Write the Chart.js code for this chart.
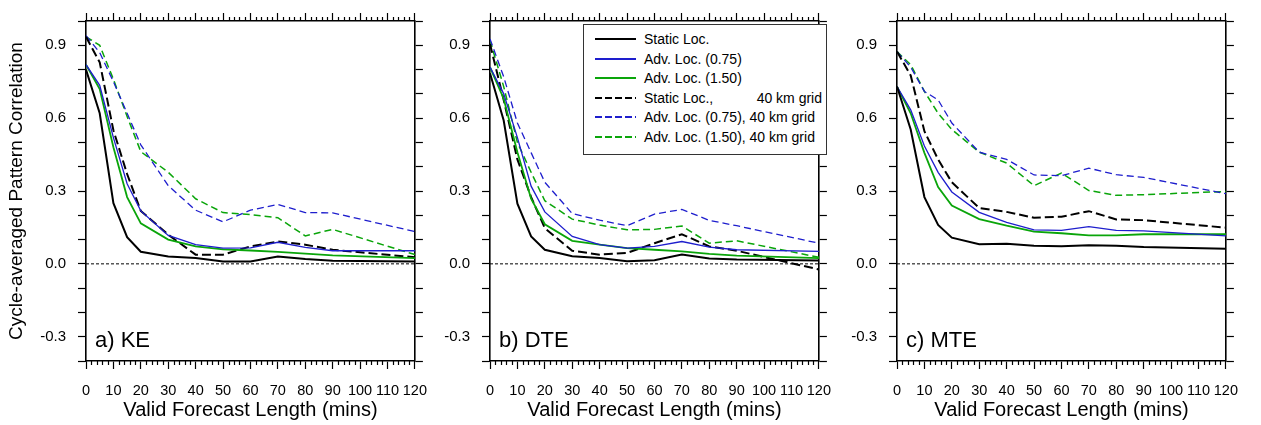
<!DOCTYPE html>
<html>
<head>
<meta charset="utf-8">
<script src="https://cdn.jsdelivr.net/npm/chart.js@4.4.1/dist/chart.umd.min.js"></script>
<style>
  body { margin: 0; background: #fff; width: 1261px; height: 425px; overflow: hidden; position: relative; font-family: 'Liberation Sans', Arial, sans-serif; }
  canvas.panel { position: absolute; top: 0; }
  #legend { position: absolute; left: 583px; top: 24px; width: 242px; height: 129px; border: 1.5px solid #333; background: #fff; }
  #legend .row { position: absolute; left: 0; height: 20px; display: flex; align-items: center; font-size: 14px; color: #000; }
  #legend svg { margin-left: 11px; margin-right: 8px; }
  #legend .txt { width: 178px; display: flex; justify-content: space-between; white-space: nowrap; }
</style>
</head>
<body>
<canvas id="panelA" class="panel" width="440" height="425" style="left:0px"></canvas>
<canvas id="panelB" class="panel" width="440" height="425" style="left:404px"></canvas>
<canvas id="panelC" class="panel" width="440" height="425" style="left:811px"></canvas>
<div id="legend"></div>
<script>
// forecast lengths (mins)
const lengths = [0, 5, 10, 15, 20, 30, 40, 50, 60, 70, 80, 90, 120];

// a) KE
const keStatic     = [0.80, 0.62, 0.25, 0.11, 0.05, 0.03, 0.024, 0.01, 0.01, 0.03, 0.02, 0.013, 0.01];
const keAdv075     = [0.82, 0.735, 0.52, 0.33, 0.218, 0.117, 0.079, 0.065, 0.066, 0.089, 0.068, 0.054, 0.054];
const keAdv150     = [0.82, 0.72, 0.48, 0.275, 0.167, 0.10, 0.072, 0.06, 0.055, 0.049, 0.042, 0.035, 0.024];
const keStatic40   = [0.935, 0.83, 0.55, 0.37, 0.218, 0.12, 0.038, 0.038, 0.072, 0.092, 0.079, 0.058, 0.027];
const keAdv075_40  = [0.94, 0.87, 0.75, 0.62, 0.49, 0.322, 0.221, 0.173, 0.221, 0.245, 0.211, 0.21, 0.133];
const keAdv150_40  = [0.935, 0.90, 0.76, 0.607, 0.462, 0.377, 0.268, 0.211, 0.203, 0.19, 0.115, 0.142, 0.038];

// b) DTE
const dteStatic    = [0.785, 0.59, 0.248, 0.113, 0.058, 0.031, 0.024, 0.011, 0.015, 0.038, 0.022, 0.018, 0.014];
const dteAdv075    = [0.81, 0.70, 0.52, 0.32, 0.214, 0.113, 0.079, 0.065, 0.072, 0.092, 0.069, 0.058, 0.051];
const dteAdv150    = [0.81, 0.68, 0.46, 0.268, 0.163, 0.095, 0.079, 0.065, 0.058, 0.051, 0.041, 0.034, 0.024];
const dteStatic40  = [0.905, 0.675, 0.43, 0.275, 0.147, 0.054, 0.038, 0.045, 0.085, 0.122, 0.072, 0.054, -0.023];
const dteAdv075_40 = [0.926, 0.77, 0.58, 0.458, 0.336, 0.207, 0.18, 0.157, 0.205, 0.224, 0.179, 0.157, 0.085];
const dteAdv150_40 = [0.92, 0.73, 0.50, 0.377, 0.26, 0.184, 0.16, 0.14, 0.142, 0.156, 0.085, 0.095, 0.027];

// c) MTE
const mteStatic    = [0.73, 0.553, 0.275, 0.16, 0.108, 0.081, 0.083, 0.075, 0.072, 0.077, 0.075, 0.069, 0.062];
const mteAdv075    = [0.73, 0.634, 0.485, 0.377, 0.296, 0.212, 0.171, 0.14, 0.138, 0.153, 0.138, 0.136, 0.115];
const mteAdv150    = [0.73, 0.62, 0.457, 0.316, 0.24, 0.184, 0.157, 0.133, 0.126, 0.117, 0.117, 0.122, 0.122];
const mteStatic40  = [0.874, 0.776, 0.546, 0.43, 0.336, 0.23, 0.214, 0.19, 0.194, 0.217, 0.183, 0.18, 0.149];
const mteAdv075_40 = [0.874, 0.81, 0.71, 0.675, 0.58, 0.46, 0.43, 0.366, 0.363, 0.394, 0.367, 0.356, 0.289];
const mteAdv150_40 = [0.874, 0.82, 0.71, 0.62, 0.553, 0.46, 0.415, 0.322, 0.374, 0.302, 0.282, 0.285, 0.298];

const seriesNames = ['Static Loc.', 'Adv. Loc. (0.75)', 'Adv. Loc. (1.50)',
  'Static Loc., 40 km grid', 'Adv. Loc. (0.75), 40 km grid', 'Adv. Loc. (1.50), 40 km grid'];

const BLUE = 'rgb(30,30,205)';
const GREEN = 'rgb(10,165,10)';
const lineStyles = [
  { color: '#000', width: 2, dash: [] },
  { color: BLUE, width: 1.3, dash: [] },
  { color: GREEN, width: 1.8, dash: [] },
  { color: '#000', width: 2, dash: [9, 4] },
  { color: BLUE, width: 1.3, dash: [7, 4] },
  { color: GREEN, width: 1.5, dash: [7, 4] },
];

const FONT = "'Liberation Sans', Arial, Helvetica, sans-serif";

function toPoints(vals) {
  return vals.map((v, i) => ({ x: lengths[i], y: v }));
}

// minor ticks on top and bottom axes + panel label
const panelDecor = {
  id: 'panelDecor',
  afterDraw(chart, args, opts) {
    const ctx = chart.ctx;
    const xs = chart.scales.x;
    const area = chart.chartArea;
    ctx.save();
    ctx.strokeStyle = '#000';
    ctx.lineWidth = 1.2;
    ctx.beginPath();
    for (let v = 2; v < 120; v += 2) {
      if (v % 10 === 0) continue;
      const px = Math.round(xs.getPixelForValue(v)) + 0.5;
      ctx.moveTo(px, area.bottom);
      ctx.lineTo(px, area.bottom + 4);
      ctx.moveTo(px, area.top);
      ctx.lineTo(px, area.top - 4);
    }
    ctx.stroke();
    ctx.fillStyle = '#000';
    ctx.font = '22px ' + FONT;
    ctx.textBaseline = 'alphabetic';
    ctx.fillText(opts.label, area.left + 9, area.bottom - 14);
    ctx.restore();
  }
};

function yLabel(v) {
  const tenths = Math.round(v * 10);
  if (tenths % 3 !== 0) return '';
  return (tenths === 0 ? 0 : tenths / 10).toFixed(1);
}

function makePanel(id, label, data, showTitle) {
  const datasets = data.map((vals, i) => ({
    label: seriesNames[i],
    data: toPoints(vals),
    borderColor: lineStyles[i].color,
    borderWidth: lineStyles[i].width,
    borderDash: lineStyles[i].dash,
    pointRadius: 0,
    tension: 0,
    fill: false,
  }));
  // zero reference line
  datasets.push({
    label: 'zero',
    data: [{ x: 0, y: 0 }, { x: 120, y: 0 }],
    borderColor: '#000',
    borderWidth: 1,
    borderDash: [3, 2],
    pointRadius: 0,
  });

  const border = { display: true, color: '#000', width: 1.6 };
  const grid = { drawOnChartArea: false, drawTicks: true, tickLength: 8, tickColor: '#000', tickWidth: 1.2 };

  new Chart(document.getElementById(id), {
    type: 'line',
    data: { datasets },
    options: {
      responsive: false,
      animation: false,
      layout: { padding: 0 },
      plugins: {
        legend: { display: false },
        tooltip: { enabled: false },
        panelDecor: { label },
      },
      scales: {
        x: {
          type: 'linear', position: 'bottom', min: 0, max: 120,
          border, grid,
          ticks: { stepSize: 10, autoSkip: false, maxRotation: 0, padding: 13, color: '#000',
                   font: { family: FONT, size: 14.5 } },
          title: { display: true, text: 'Valid Forecast Length (mins)', color: '#000',
                   font: { family: FONT, size: 20 }, padding: { top: 0, bottom: 3 } },
          afterFit(s) { s.height = 64; },
        },
        x2: {
          type: 'linear', position: 'top', min: 0, max: 120,
          border, grid,
          ticks: { stepSize: 10, display: false },
          afterFit(s) { s.height = 16; },
        },
        y: {
          type: 'linear', position: 'left', min: -0.4, max: 1.0,
          border, grid,
          ticks: {
            stepSize: 0.1, autoSkip: false, padding: 12, color: '#000',
            font: { family: FONT, size: 15 },
            callback: yLabel,
          },
          title: { display: showTitle, text: 'Cycle-averaged Pattern Correlation', color: '#000',
                   font: { family: FONT, size: 19 }, padding: { top: 5, bottom: 0 } },
          afterFit(s) { s.width = 86; },
        },
        y2: {
          type: 'linear', position: 'right', min: -0.4, max: 1.0,
          border, grid,
          ticks: { stepSize: 0.1, autoSkip: false, display: false },
          afterFit(s) { s.width = 12; },
        },
      },
    },
    plugins: [panelDecor],
  });
}

makePanel('panelA', 'a) KE', [keStatic, keAdv075, keAdv150, keStatic40, keAdv075_40, keAdv150_40], true);
makePanel('panelB', 'b) DTE', [dteStatic, dteAdv075, dteAdv150, dteStatic40, dteAdv075_40, dteAdv150_40], false);
makePanel('panelC', 'c) MTE', [mteStatic, mteAdv075, mteAdv150, mteStatic40, mteAdv075_40, mteAdv150_40], false);

// legend (inside panel b)
const legend = document.getElementById('legend');
seriesNames.forEach((name, i) => {
  const st = lineStyles[i];
  const row = document.createElement('div');
  row.className = 'row';
  row.style.top = (4 + i * 19.6) + 'px';
  const svg = `<svg width="41" height="6"><line x1="0" y1="3" x2="41" y2="3" stroke="${st.color}"
    stroke-width="${i === 0 || i === 2 ? 2.2 : 1.8}" stroke-dasharray="${st.dash.length ? '7,3' : ''}"/></svg>`;
  let txt;
  if (i === 3) txt = '<span>Static Loc.,</span><span>40 km grid</span>';
  else txt = '<span>' + name + '</span>';
  row.innerHTML = svg + '<div class="txt">' + txt + '</div>';
  legend.appendChild(row);
});
</script>
</body>
</html>
